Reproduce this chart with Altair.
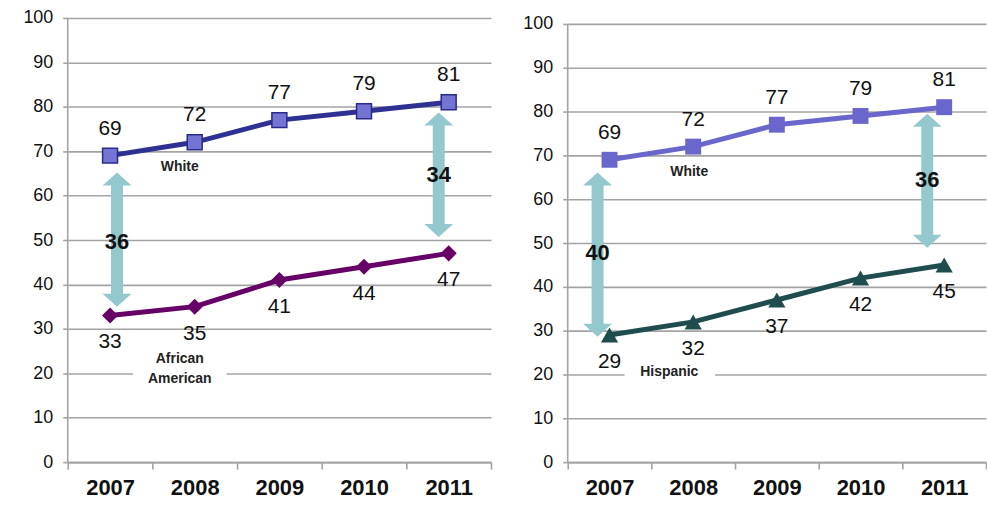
import altair as alt
import pandas as pd

# ---------------- data ----------------
years = ["2007", "2008", "2009", "2010", "2011"]
white = [69, 72, 77, 79, 81]
african_american = [33, 35, 41, 44, 47]
hispanic = [29, 32, 37, 42, 45]
y_ticks = [0, 10, 20, 30, 40, 50, 60, 70, 80, 90, 100]

# gap arrows (year, top tip, bottom tip, label position, label)
left_gap_years = ["2007", "2011"]
left_gap_top = [65.2, 78.7]
left_gap_bottom = [35.0, 50.7]
left_gap_label_y = [49.6, 64.6]
left_gap_text = ["36", "34"]

right_gap_years = ["2007", "2011"]
right_gap_top = [66.1, 79.5]
right_gap_bottom = [28.6, 48.9]
right_gap_label_y = [47.7, 64.3]
right_gap_text = ["40", "36"]

# series name annotations
left_names = ["White", "African\nAmerican"]
left_names_year = ["2008", "2008"]
left_names_y = [66.4, 20.9]
right_names = ["White", "Hispanic"]
right_names_year = ["2008", "2008"]
right_names_y = [66.1, 20.5]

FONT = "Liberation Sans"
GRID = "#a3a3a3"
ARROW = "#92c8ce"
TEXT = "#111111"


def panel(minority, width, height, ymax, white_line, white_fill, white_stroke,
          min_color, min_shape, min_size, white_size,
          gap_years, gap_top, gap_bottom, gap_label_y, gap_text, gap_dx,
          names, names_year, names_y, names_dx, gap_box):
    ppu = height / ymax
    x_enc = alt.X(
        "year:O", sort=years,
        scale=alt.Scale(type="band", domain=years, paddingInner=0, paddingOuter=0),
        axis=alt.Axis(title=None, labelAngle=0, tickBand="extent", grid=False,
                      domainColor=GRID, domainWidth=1.6, tickColor=GRID, tickWidth=1.6,
                      tickSize=7, labelFont=FONT, labelFontSize=22, labelFontWeight="bold",
                      labelColor=TEXT, labelPadding=8),
    )

    def y_enc(field):
        return alt.Y(
            f"{field}:Q",
            scale=alt.Scale(domain=[0, ymax], nice=False, zero=True),
            axis=alt.Axis(title=None, values=y_ticks, grid=True, gridColor=GRID,
                          gridWidth=1.6, domain=False, tickColor=GRID, tickWidth=1.6,
                          tickSize=5, labelFont=FONT, labelFontSize=18, labelColor=TEXT,
                          labelPadding=10),
        )

    series = pd.DataFrame({"year": years, "white": white, "minority": minority})

    axis_line = alt.Chart(pd.DataFrame({"a": [0]})).mark_rule(
        color=GRID, strokeWidth=1.6
    ).encode(x=alt.value(0), y=alt.Y("lo:Q", scale=alt.Scale(domain=[0, ymax], nice=False)),
             y2="hi:Q").transform_calculate(lo="0", hi="100")

    layers = []
    # white gap boxes hiding the gridline behind the name label
    box = pd.DataFrame({"x1": ["2007"], "x2": ["2008"], "y": [20]})
    layers.append(
        alt.Chart(box).mark_rule(color="white", strokeWidth=10,
                                 xOffset=gap_box[0], x2Offset=gap_box[1])
        .encode(x=x_enc, x2="x2:O", y=y_enc("y")).transform_calculate(year="datum.x1")
    )
    # arrows
    head_h = 13
    for i in range(len(gap_years)):
        d = pd.DataFrame({
            "year": [gap_years[i]],
            "top": [gap_top[i]],
            "bottom": [gap_bottom[i]],
            "shaft_top": [gap_top[i] - (head_h - 1) / ppu],
            "shaft_bottom": [gap_bottom[i] + (head_h - 1) / ppu],
        })
        layers.append(
            alt.Chart(d).mark_rule(color=ARROW, strokeWidth=12, xOffset=gap_dx[i])
            .encode(x=x_enc, y=y_enc("shaft_top"), y2="shaft_bottom:Q")
        )
        layers.append(
            alt.Chart(d).mark_point(shape="M0,0L1,0.9L-1,0.9Z", size=841, filled=True,
                                    opacity=1, color=ARROW, xOffset=gap_dx[i])
            .encode(x=x_enc, y=y_enc("top"))
        )
        layers.append(
            alt.Chart(d).mark_point(shape="M0,0L1,-0.9L-1,-0.9Z", size=841, filled=True,
                                    opacity=1, color=ARROW, xOffset=gap_dx[i])
            .encode(x=x_enc, y=y_enc("bottom"))
        )
    # lines and markers
    layers.append(alt.Chart(series).mark_line(color=white_line, strokeWidth=5)
                  .encode(x=x_enc, y=y_enc("white")))
    pt_kwargs = dict(shape="square", size=white_size, filled=True, opacity=1,
                     fill=white_fill)
    if white_stroke:
        pt_kwargs.update(stroke=white_stroke, strokeWidth=1.5)
    layers.append(alt.Chart(series).mark_point(**pt_kwargs)
                  .encode(x=x_enc, y=y_enc("white")))
    layers.append(alt.Chart(series).mark_line(color=min_color, strokeWidth=5)
                  .encode(x=x_enc, y=y_enc("minority")))
    layers.append(alt.Chart(series).mark_point(shape=min_shape, size=min_size, filled=True,
                                               opacity=1, color=min_color)
                  .encode(x=x_enc, y=y_enc("minority")))
    # value labels
    layers.append(alt.Chart(series).mark_text(font=FONT, fontSize=21, color=TEXT, dy=-27,
                                              baseline="middle")
                  .encode(x=x_enc, y=y_enc("white"), text="white:Q"))
    layers.append(alt.Chart(series).mark_text(font=FONT, fontSize=21, color=TEXT, dy=27,
                                              baseline="middle")
                  .encode(x=x_enc, y=y_enc("minority"), text="minority:Q"))
    # gap labels
    for i in range(len(gap_years)):
        d = pd.DataFrame({"year": [gap_years[i]], "ly": [gap_label_y[i]],
                          "t": [gap_text[i]]})
        layers.append(
            alt.Chart(d).mark_text(font=FONT, fontSize=22, fontWeight="bold", color=TEXT,
                                   baseline="middle", xOffset=gap_dx[i])
            .encode(x=x_enc, y=y_enc("ly"), text="t:N")
        )
    # series names
    for i in range(len(names)):
        lines = names[i].split("\n")
        d = pd.DataFrame({"year": [names_year[i]], "ny": [names_y[i]]})
        layers.append(
            alt.Chart(d).mark_text(font=FONT, fontSize=14, fontWeight="bold", color="#222222",
                                   baseline="middle", lineHeight=20, xOffset=names_dx[i],
                                   dy=-(len(lines) - 1) * 10)
            .encode(x=x_enc, y=y_enc("ny"), text=alt.value(lines))
        )
    layers.append(axis_line)
    return alt.layer(*layers).properties(width=width, height=height)


left = panel(african_american, 425, 446, 100.0,
             white_line="#2e3192", white_fill="#7474d2", white_stroke="#2a2a8c",
             min_color="#660066", min_shape="diamond", min_size=260, white_size=225,
             gap_years=left_gap_years, gap_top=left_gap_top, gap_bottom=left_gap_bottom,
             gap_label_y=left_gap_label_y, gap_text=left_gap_text, gap_dx=[7, -10],
             names=left_names, names_year=left_names_year, names_y=left_names_y,
             names_dx=[-15, -15], gap_box=[23, 32])

right = panel(hispanic, 420, 446, 446 / 4.40,
              white_line="#6b66cc", white_fill="#6b66cc", white_stroke=None,
              min_color="#1f4d4d", min_shape="triangle-up", min_size=300, white_size=256,
              gap_years=right_gap_years, gap_top=right_gap_top, gap_bottom=right_gap_bottom,
              gap_label_y=right_gap_label_y, gap_text=right_gap_text, gap_dx=[-12, -17],
              names=right_names, names_year=right_names_year, names_y=right_names_y,
              names_dx=[-4, -24], gap_box=[15, 22])

chart = alt.hconcat(left, right, spacing=30).properties(
    padding={"left": 22, "top": 8, "right": 0, "bottom": 0},
    background="white",
).configure_view(stroke=None)

chart.save("out.html", embed_options={"renderer": "svg", "actions": False})
